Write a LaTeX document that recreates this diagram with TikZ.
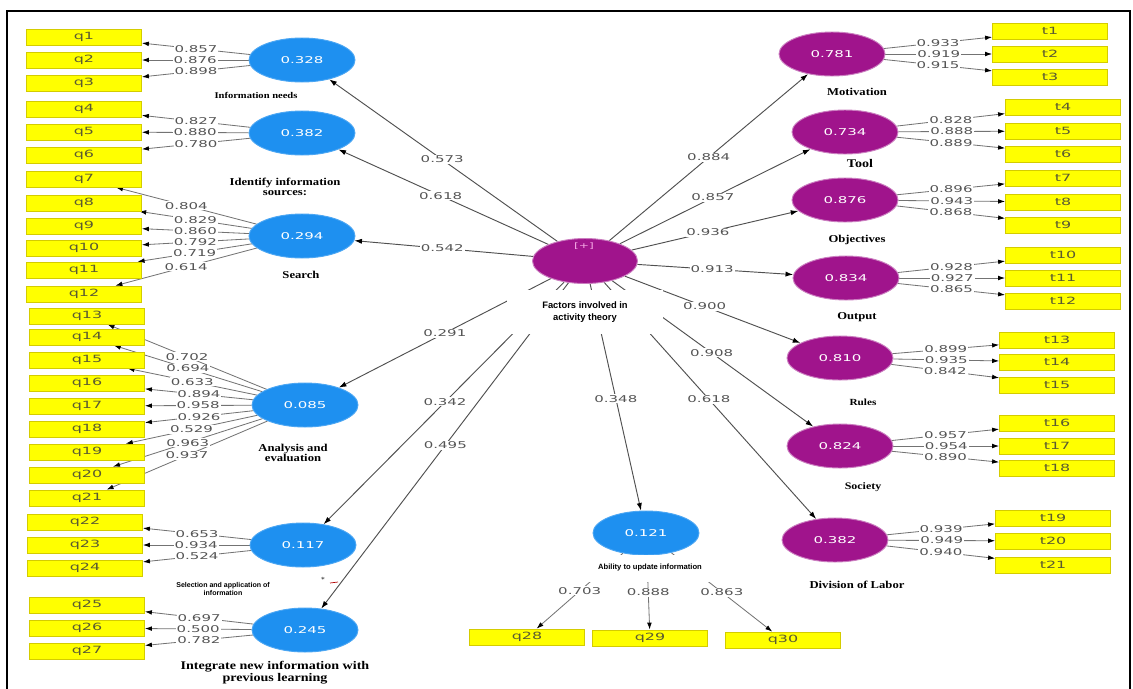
\documentclass[tikz,border=0pt]{standalone}
\usepackage{fontspec}
\usetikzlibrary{shapes.geometric,arrows.meta}
\newfontfamily\numfont[FakeStretch=1.6]{DejaVu Sans}
\newfontfamily\capserif[FakeStretch=1.2]{Liberation Serif}
\newfontfamily\capsans{Liberation Sans}
\pgfdeclarelayer{paper}
\pgfdeclarelayer{edges}
\pgfdeclarelayer{labels}
\pgfsetlayers{paper,edges,labels,main}

\definecolor{latblue}{RGB}{30,144,240}
\definecolor{latpurple}{RGB}{160,20,140}
\definecolor{indyellow}{RGB}{255,255,0}
\definecolor{indedge}{RGB}{212,204,0}
\definecolor{indtext}{RGB}{90,90,50}
\definecolor{edgegray}{RGB}{115,115,115}
\definecolor{pathgray}{RGB}{80,80,80}
\definecolor{numgray}{RGB}{85,85,85}
\definecolor{plus}{RGB}{245,170,230}

\tikzset{
  lat/.style={ellipse, minimum width=106*0.03cm, minimum height=44*0.03cm,
    inner sep=0pt, line width=0.8pt, text=white, font=\numfont\fontsize{8}{9}\selectfont},
  blat/.style={lat, fill=latblue, draw=latblue!80!white},
  plat/.style={lat, fill=latpurple, draw=latpurple!55!white},
  ind/.style={rectangle, fill=indyellow, draw=indedge, line width=0.6pt,
    minimum width=115*0.03cm, minimum height=16*0.03cm, inner sep=0pt,
    text=indtext, font=\numfont\fontsize{8.5}{9}\selectfont},
  load/.style={draw=edgegray, line width=0.7pt, -{Latex[length=6pt,width=4pt,color=black]}},
  structedge/.style={draw=pathgray, line width=0.8pt, -{Latex[length=6.5pt,width=4.4pt,color=black]}},
  wt/.style={font=\numfont\fontsize{8}{9}\selectfont, text=numgray, fill=white, inner sep=0.8pt},
  nm/.style={font=\capserif\bfseries\fontsize{9}{8.5}\selectfont, align=center, inner sep=1pt},
  nmsans/.style={font=\capsans\bfseries\fontsize{7}{8}\selectfont, align=center, inner sep=1pt},
}

% outer loading: latent -> indicator, value on a white patch half way
\newcommand\ldedge[3]{%
  \begin{pgfonlayer}{edges}\draw[load] (#1) -- (#2);\end{pgfonlayer}%
  \begin{pgfonlayer}{labels}\path (#1) -- (#2) node[midway,wt] {#3};\end{pgfonlayer}}
% structural path: centre construct -> dimension
\newcommand\stedge[4]{%
  \begin{pgfonlayer}{edges}\draw[structedge] (#1) -- (#2);\end{pgfonlayer}%
  \begin{pgfonlayer}{labels}\path (#1) -- (#2) node[pos=#3,wt] {#4};\end{pgfonlayer}}

\begin{document}
\begin{tikzpicture}[x=0.03cm,y=-0.03cm]
\useasboundingbox (0,0) rectangle (1133,688);
\begin{pgfonlayer}{paper}
\fill[white] (0,0) rectangle (1133,688);
\end{pgfonlayer}

% frame
\draw[line width=1.6pt] (7,690) -- (7,11) -- (1130,11) -- (1130,690);

% ---------- left indicators ----------
\foreach \n/\x/\y in {1/84/37,2/84/60,3/84/83,4/84/109,5/84/132,6/84/155,
  7/84/179,8/84/203,9/84/226,10/84/248,11/84/270,12/84/294,
  13/87/316,14/87/337,15/87/360,16/87/383,17/87/406,18/87/429,19/87/452,
  20/87/475,21/87/498,22/85/522,23/85/545,24/85/568,25/87/605,26/87/628,27/87/651}
  \node[ind] (q\n) at (\x,\y) {q\n};

% bottom indicators
\node[ind] (q28) at (527,637) {q28};
\node[ind] (q29) at (650,638) {q29};
\node[ind] (q30) at (783,640) {q30};

% ---------- right indicators ----------
\foreach \n/\x/\y in {1/1050/31,2/1050/54,3/1050/77,4/1063/107,5/1063/131,6/1063/154,
  7/1063/178,8/1063/202,9/1063/225,10/1063/255,11/1063/278,12/1063/301,
  13/1057/340,14/1057/362,15/1057/385,16/1057/423,17/1057/446,18/1057/468,
  19/1053/518,20/1053/541,21/1053/565}
  \node[ind] (t\n) at (\x,\y) {t\n};

% ---------- latent variables ----------
\node[blat] (IN) at (302,60) {0.328};
\node[blat] (IS) at (302,133) {0.382};
\node[blat] (SE) at (302,236) {0.294};
\node[blat] (AE) at (305,405) {0.085};
\node[blat] (SA) at (303,545) {0.117};
\node[blat] (IG) at (305,630) {0.245};
\node[blat] (AU) at (646,533) {0.121};

\node[plat, minimum width=105*0.03cm, minimum height=45*0.03cm] (C) at (585,261) {};
\node[text=plus, font=\numfont\fontsize{6.5}{7}\selectfont, inner sep=0pt] (Cplus) at (584,246) {[+]};

\node[plat] (MO) at (832,54) {0.781};
\node[plat] (TO) at (845,132) {0.734};
\node[plat] (OB) at (845,200) {0.876};
\node[plat] (OU) at (846,278) {0.834};
\node[plat] (RU) at (840,358) {0.810};
\node[plat] (SO) at (840,446) {0.824};
\node[plat] (DL) at (835,540) {0.382};

% ---------- construct names ----------
\node[nm, font=\capserif\bfseries\fontsize{7.5}{8}\selectfont] (nIN) at (256,95) {Information needs};
\node[nm] (nIS) at (285,187) {Identify information\\sources:};
\node[nm] (nSE) at (301,275) {Search};
\node[nm] (nAE) at (293,453) {Analysis and\\evaluation};
\node[nmsans, font=\capsans\bfseries\fontsize{6}{7}\selectfont] (nSA) at (223,589) {Selection and application of\\information};
\node[nm, font=\capserif\bfseries\fontsize{10}{10}\selectfont] (nIG) at (275,673) {Integrate new information with\\previous learning};
\node[nm] (nMO) at (857,92) {Motivation};
\node[nm, font=\capserif\bfseries\fontsize{10}{10}\selectfont] (nTO) at (860,163) {Tool};
\node[nm] (nOB) at (857,240) {Objectives};
\node[nm] (nOU) at (857,317) {Output};
\node[nm, font=\capserif\bfseries\fontsize{8}{8}\selectfont] (nRU) at (863,402) {Rules};
\node[nm, font=\capserif\bfseries\fontsize{8.5}{8}\selectfont] (nSO) at (863,487) {Society};
\node[nm] (nDL) at (857,585) {Division of Labor};

% the centre caption sits on a white patch that hides the path starts
\node[nmsans, font=\capsans\bfseries\fontsize{8}{10}\selectfont, fill=white,
  minimum width=156*0.03cm, minimum height=44*0.03cm] (nC) at (585,312)
  {Factors involved in\\activity theory};
\node[nmsans, font=\capsans\bfseries\fontsize{6.5}{7}\selectfont, fill=white,
  minimum width=130*0.03cm, minimum height=27*0.03cm] (nAU) at (650,568)
  {Ability to update information};

% small stray marks
\node[font=\fontsize{6}{6}\selectfont, inner sep=0pt] (ast) at (323,580) {*};
\coordinate (mk1) at (330,583);
\coordinate (mk2) at (338,582);
\draw[red!70!black, line width=0.6pt] (mk1) -- (mk2);

% ---------- structural paths ----------
\stedge{C}{IN}{0.505}{0.573}
\stedge{C}{IS}{0.513}{0.618}
\stedge{C}{SE}{0.508}{0.542}
\stedge{C}{AE}{0.5}{0.291}
\stedge{C}{SA}{0.495}{0.342}
\stedge{C}{IG}{0.498}{0.495}
\stedge{C}{AU}{0.506}{0.348}
\stedge{C}{DL}{0.494}{0.618}
\stedge{C}{SO}{0.495}{0.908}
\stedge{C}{RU}{0.455}{0.900}
\stedge{C}{OU}{0.48}{0.913}
\stedge{C}{OB}{0.458}{0.936}
\stedge{C}{TO}{0.488}{0.857}
\stedge{C}{MO}{0.5}{0.884}

% ---------- outer loadings ----------
\ldedge{IN}{q1}{0.857}
\ldedge{IN}{q2}{0.876}
\ldedge{IN}{q3}{0.898}
\ldedge{IS}{q4}{0.827}
\ldedge{IS}{q5}{0.880}
\ldedge{IS}{q6}{0.780}
\ldedge{SE}{q7}{0.804}
\ldedge{SE}{q8}{0.829}
\ldedge{SE}{q9}{0.860}
\ldedge{SE}{q10}{0.792}
\ldedge{SE}{q11}{0.719}
\ldedge{SE}{q12}{0.614}
\ldedge{AE}{q13}{0.702}
\ldedge{AE}{q14}{0.694}
\ldedge{AE}{q15}{0.633}
\ldedge{AE}{q16}{0.894}
\ldedge{AE}{q17}{0.958}
\ldedge{AE}{q18}{0.926}
\ldedge{AE}{q19}{0.529}
\ldedge{AE}{q20}{0.963}
\ldedge{AE}{q21}{0.937}
\ldedge{SA}{q22}{0.653}
\ldedge{SA}{q23}{0.934}
\ldedge{SA}{q24}{0.524}
\ldedge{IG}{q25}{0.697}
\ldedge{IG}{q26}{0.500}
\ldedge{IG}{q27}{0.782}
\ldedge{AU}{q28}{0.703}
\ldedge{AU}{q29}{0.888}
\ldedge{AU}{q30}{0.863}
\ldedge{MO}{t1}{0.933}
\ldedge{MO}{t2}{0.919}
\ldedge{MO}{t3}{0.915}
\ldedge{TO}{t4}{0.828}
\ldedge{TO}{t5}{0.888}
\ldedge{TO}{t6}{0.889}
\ldedge{OB}{t7}{0.896}
\ldedge{OB}{t8}{0.943}
\ldedge{OB}{t9}{0.868}
\ldedge{OU}{t10}{0.928}
\ldedge{OU}{t11}{0.927}
\ldedge{OU}{t12}{0.865}
\ldedge{RU}{t13}{0.899}
\ldedge{RU}{t14}{0.935}
\ldedge{RU}{t15}{0.842}
\ldedge{SO}{t16}{0.957}
\ldedge{SO}{t17}{0.954}
\ldedge{SO}{t18}{0.890}
\ldedge{DL}{t19}{0.939}
\ldedge{DL}{t20}{0.949}
\ldedge{DL}{t21}{0.940}
\end{tikzpicture}
\end{document}
